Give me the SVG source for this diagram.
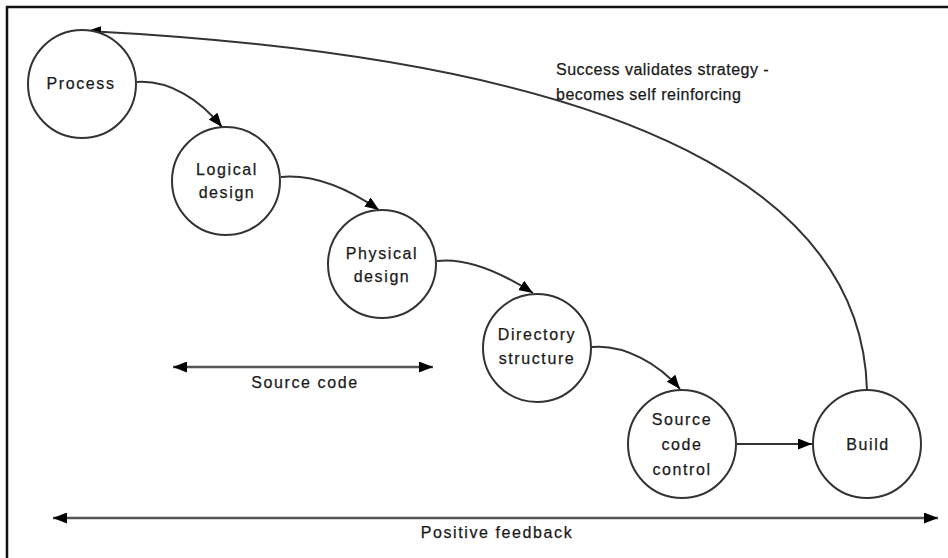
<svg xmlns="http://www.w3.org/2000/svg" width="948" height="558" viewBox="0 0 948 558">
<style>
.node{fill:#fff;stroke:#333;stroke-width:2}
.lbl{font-family:"Liberation Sans",Arial,sans-serif;font-size:16px;fill:#1a1a1a;stroke:#1a1a1a;stroke-width:0.25;text-anchor:middle;letter-spacing:1.6px}
.note{font-family:"Liberation Sans",Arial,sans-serif;font-size:16px;fill:#1a1a1a;stroke:#1a1a1a;stroke-width:0.25;letter-spacing:0.5px}
.conn{fill:none;stroke:#333;stroke-width:2}
.bar{fill:none;stroke:#555;stroke-width:2.5}
</style>
<defs>
<marker id="ah" viewBox="0 0 14 11" refX="14" refY="5.5" markerWidth="14" markerHeight="11" markerUnits="userSpaceOnUse" orient="auto-start-reverse">
<path d="M0,0 L14,5.5 L0,11 z" fill="#000"/>
</marker>
</defs>
<rect x="0" y="0" width="948" height="558" fill="#fff"/>
<path d="M7,558 V7 H948" fill="none" stroke="#111" stroke-width="2.5"/>
<g id="connectors">
<path class="conn" d="M137,82 C170,80 200,100 222,127" marker-end="url(#ah)"/>
<path class="conn" d="M281,177 C315,174 350,190 379,210" marker-end="url(#ah)"/>
<path class="conn" d="M437,261 C470,257 505,275 533,293" marker-end="url(#ah)"/>
<path class="conn" d="M592,347 C625,344 660,365 680,389" marker-end="url(#ah)"/>
<path class="conn" d="M737,444 H812" marker-end="url(#ah)"/>
<path class="conn" d="M867,390 C862,200 650,60 87,31" marker-end="url(#ah)"/>
<path class="bar" d="M173,367 H433" marker-start="url(#ah)" marker-end="url(#ah)"/>
<path class="bar" d="M53,518 H938" marker-start="url(#ah)" marker-end="url(#ah)"/>
</g>
<g id="process"><circle class="node" cx="82" cy="84" r="54"/><text class="lbl" x="81" y="89">Process</text></g>
<g id="logical"><circle class="node" cx="226" cy="181" r="54"/><text class="lbl" x="227" y="175">Logical</text><text class="lbl" x="227" y="198">design</text></g>
<g id="physical"><circle class="node" cx="382" cy="264" r="54"/><text class="lbl" x="382" y="259">Physical</text><text class="lbl" x="382" y="282">design</text></g>
<g id="directory"><circle class="node" cx="537" cy="348" r="54"/><text class="lbl" x="537" y="340">Directory</text><text class="lbl" x="537" y="364">structure</text></g>
<g id="scc"><circle class="node" cx="682" cy="444" r="54"/><text class="lbl" x="682" y="425">Source</text><text class="lbl" x="682" y="450">code</text><text class="lbl" x="682" y="475">control</text></g>
<g id="build"><circle class="node" cx="867" cy="444" r="54"/><text class="lbl" x="868" y="450">Build</text></g>
<g id="labels">
<text class="lbl" x="305" y="388">Source code</text>
<text class="lbl" x="497" y="538">Positive feedback</text>
<text class="note" x="556" y="75">Success validates strategy -</text>
<text class="note" x="556" y="100">becomes self reinforcing</text>
</g>
</svg>
